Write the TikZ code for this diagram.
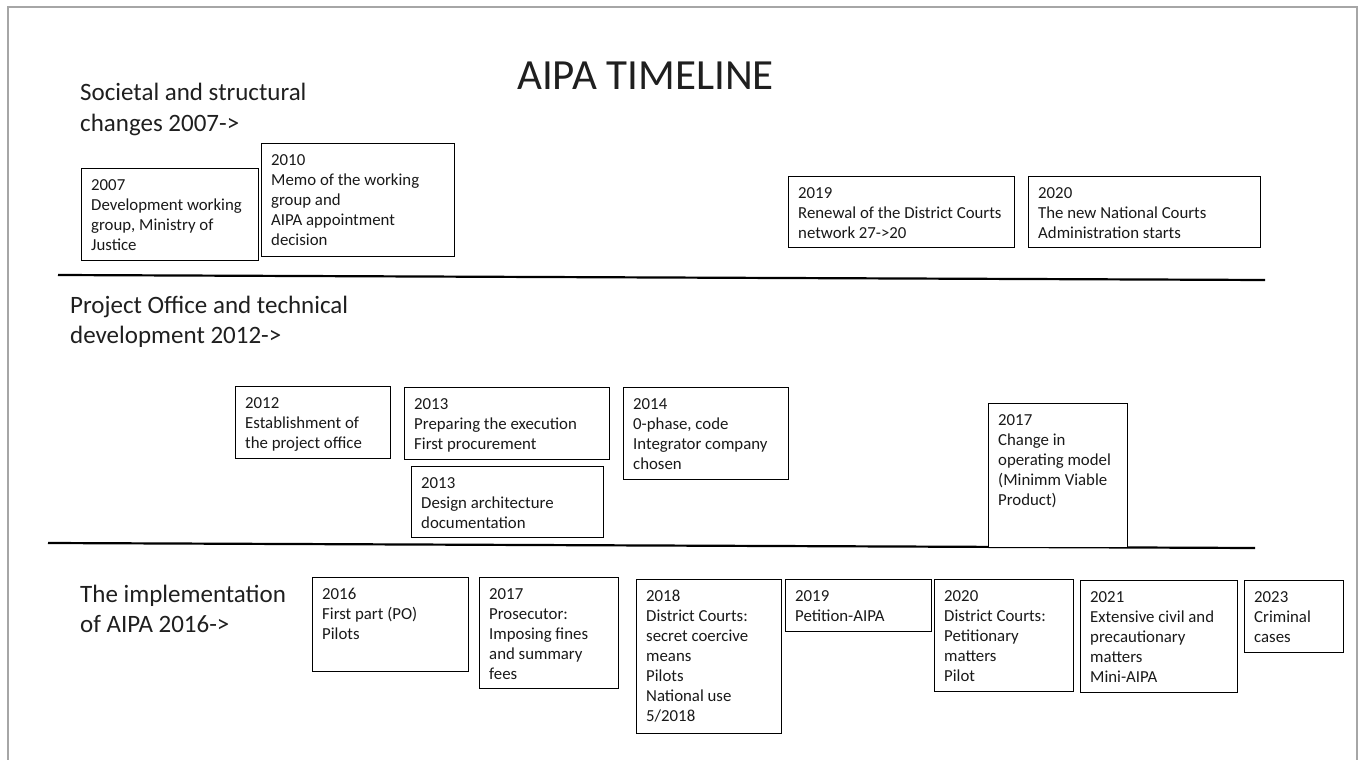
\documentclass[tikz,border=0pt]{standalone}
\usepackage{fontspec}
\setmainfont{Carlito}
\newcommand\evfont{\fontsize{16.8}{20}\selectfont}
\newcommand\hdfont{\fontsize{25}{30.5}\selectfont}
\newcommand\ttlfont{\fontsize{43}{50}\selectfont}
\tikzset{
  evframe/.style={draw=black, line width=1pt, anchor=north west, inner sep=0pt, fill=white},
  evtext/.style={anchor=base west, inner sep=0pt, font=\evfont, text=black!90},
  heading/.style={anchor=base west, inner sep=0pt, font=\hdfont, text=black!88},
  sepline/.style={line width=2.2pt, black},
  frameline/.style={line width=1.2pt, black!35}
}
\newcommand\evbox[6]{%
  \node[evframe, minimum width=#4pt, minimum height=#5pt] (#1) at (#2,#3) {};
  \node[evtext] (#1-t) at ([xshift=10pt,yshift=-22pt]#1.north west) {\begin{tabular}[t]{@{}l@{}}#6\end{tabular}};%
}
\begin{document}
\begin{tikzpicture}[x=1pt,y=-1pt]
\useasboundingbox (0,0) rectangle (1361,760);
% frame
\coordinate (fbl) at (8,760);
\coordinate (ftl) at (8,7);
\coordinate (ftr) at (1357,7);
\coordinate (fbr) at (1357,760);
\draw[frameline] (fbl) -- (ftl) -- (ftr) -- (fbr);

% title
\node[anchor=base, inner sep=0pt, font=\ttlfont, text=black!88] (title) at (645.5,90) {AIPA TIMELINE};

% headings
\node[heading] (h1) at (80,101) {\begin{tabular}[t]{@{}l@{}}Societal and structural\\changes 2007->\end{tabular}};
\node[heading] (h2) at (70,313) {\begin{tabular}[t]{@{}l@{}}Project Office and technical\\development 2012->\end{tabular}};
\node[heading] (h3) at (80,602) {\begin{tabular}[t]{@{}l@{}}The implementation\\of AIPA 2016->\end{tabular}};

% separator lines
\coordinate (l1a) at (58,275);
\coordinate (l1b) at (1265,280);
\coordinate (l2a) at (48,543);
\coordinate (l2b) at (1255,548);
\draw[sepline] (l1a) -- (l1b);
\draw[sepline] (l2a) -- (l2b);

% row 1
\evbox{b2007}{81}{168}{177}{92}{2007\\Development working\\group, Ministry of\\Justice}
\evbox{b2010}{261}{143}{193}{113}{2010\\Memo of the working\\group and\\AIPA appointment\\decision}
\evbox{b2019a}{788}{176}{226}{71}{2019\\Renewal of the District Courts\\network 27->20}
\evbox{b2020a}{1028}{176}{232}{71}{2020\\The new National Courts\\Administration starts}

% row 2
\evbox{b2012}{235}{386}{155}{72}{2012\\Establishment of\\the project office}
\evbox{b2013a}{404}{387}{205}{72}{2013\\Preparing the execution\\First procurement}
\evbox{b2013b}{411}{466}{192}{71}{2013\\Design architecture\\documentation}
\evbox{b2014}{623}{387}{165}{92}{2014\\0-phase, code\\Integrator company\\chosen}
\evbox{b2017a}{988}{403}{139}{144}{2017\\Change in\\operating model\\(Minimm Viable\\Product)}

% row 3
\evbox{b2016}{312}{577}{156}{94}{2016\\First part (PO)\\Pilots}
\evbox{b2017b}{479}{577}{139}{111}{2017\\Prosecutor:\\Imposing fines\\and summary\\fees}
\evbox{b2018}{636}{579}{145}{154}{2018\\District Courts:\\secret coercive\\means\\Pilots\\National use\\5/2018}
\evbox{b2019b}{785}{579}{146}{52}{2019\\Petition-AIPA}
\evbox{b2020b}{934}{579}{139}{112}{2020\\District Courts:\\Petitionary\\matters\\Pilot}
\evbox{b2021}{1080}{580}{157}{112}{2021\\Extensive civil and\\precautionary\\matters\\Mini-AIPA}
\evbox{b2023}{1244}{580}{99}{72}{2023\\Criminal\\cases}
\end{tikzpicture}
\end{document}
